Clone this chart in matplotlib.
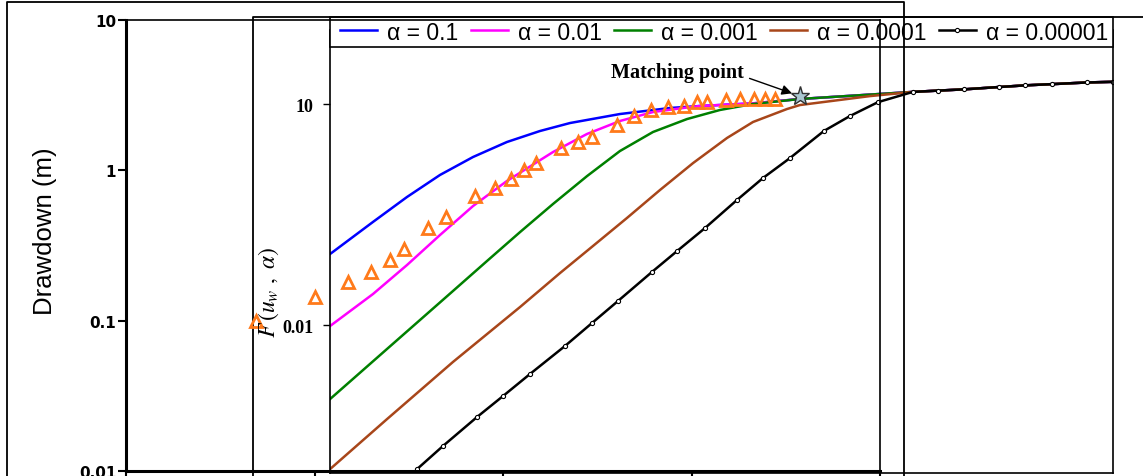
import matplotlib.pyplot as plt
from matplotlib.lines import Line2D
from matplotlib.patches import Rectangle
from matplotlib.ticker import NullLocator

# type curves F(u_w, alpha) against 1/u_w
inv_uw_a1 = [1, 3.12, 7.67, 18.4, 44.1, 108, 259, 574, 2150, 8090,
             17900, 72800, 252000, 948000, 5.02e6, 9.75e6, 1.94e7, 4.90e7, 9.75e7, 1.99e8, 5.02e8, 1e9]
f_a1 = [0.092, 0.251, 0.547, 1.09, 1.91, 3.05, 4.30, 5.52, 7.31, 8.83,
        9.4, 10.2, 11.7, 12.9, 14.6, 15.2, 15.8, 17.0, 17.9, 18.6, 19.6, 20.0]

inv_uw_a2 = [1, 3.12, 7.67, 18.4, 44.1, 108, 366, 899, 2150, 5160, 12700,
             17900, 72800, 252000, 948000, 5.02e6, 9.75e6, 1.94e7, 4.90e7, 9.75e7, 1.99e8, 5.02e8, 1e9]
f_a2 = [0.0097, 0.0264, 0.0653, 0.167, 0.413, 0.902, 2.23, 3.92, 5.88, 7.78, 8.97,
        9.4, 10.2, 11.7, 12.9, 14.6, 15.2, 15.8, 17.0, 17.9, 18.6, 19.6, 20.0]

inv_uw_a3 = [1, 4.52, 10.8, 25.9, 63.8, 153, 366, 899, 2150, 5160, 12700, 30400, 72800,
             252000, 948000, 5.02e6, 9.75e6, 1.94e7, 4.90e7, 9.75e7, 1.99e8, 5.02e8, 1e9]
f_a3 = [0.00099, 0.00474, 0.0117, 0.0290, 0.0741, 0.183, 0.440, 1.05, 2.30, 4.17, 6.25, 8.30, 10.0,
        11.7, 12.9, 14.6, 15.2, 15.8, 17.0, 17.9, 18.6, 19.6, 20.0]

inv_uw_a4 = [1, 4.52, 25.9, 153, 441, 1050, 2590, 6210, 14900, 36600, 72800, 179000, 252000,
             1.61e6, 5.02e6, 9.75e6, 1.94e7, 4.90e7, 9.75e7, 1.99e8, 5.02e8, 1e9]
f_a4 = [1.11e-4, 5.3e-4, 0.00316, 0.0176, 0.0509, 0.118, 0.284, 0.681, 1.58, 3.46, 5.70, 8.55, 9.68,
        12.8, 14.6, 15.2, 15.8, 17.0, 17.9, 18.6, 19.6, 20.0]

inv_uw_a5 = [10, 19.9, 49.0, 97.5, 199, 502, 1030, 2040, 5020, 9750, 20400, 47600, 94800,
             194000, 476000, 948000, 1.99e6, 5.02e6, 9.75e6, 1.94e7, 4.90e7, 9.75e7, 1.99e8, 5.02e8, 1e9]
f_a5 = [1.11e-4, 2.29e-4, 5.66e-4, 0.00109, 0.00217, 0.0052, 0.0107, 0.0212, 0.0526, 0.101, 0.207, 0.498, 0.99,
        1.85, 4.31, 6.87, 10.6, 14.6, 15.2, 15.8, 17.0, 17.9, 18.6, 19.6, 20.0]

alpha_labels = ["α = 0.1", "α = 0.01", "α = 0.001", "α = 0.0001", "α = 0.00001"]

# observed drawdown
time_obs = [4.9, 10, 15, 20, 25, 30, 40, 50, 71, 91, 110, 130, 150, 204, 251, 297, 404, 497,
            612, 755, 918, 1076, 1202, 1517, 1799, 2136, 2445, 2763]
drawdown_obs = [0.099, 0.143, 0.180, 0.210, 0.252, 0.299, 0.412, 0.488, 0.672, 0.759, 0.871, 1.0,
                1.11, 1.40, 1.53, 1.66, 1.99, 2.28, 2.51, 2.62, 2.67, 2.83, 2.83, 2.92, 2.96,
                2.99, 2.99, 2.99]

match_inv_uw = 252000
match_f = 12.8

W, H = 1143, 477


def fx(x):
    return x / W


def fy(y):
    return 1 - y / H


plt.rcParams['font.family'] = ['Liberation Sans', 'DejaVu Sans']
plt.rcParams['mathtext.fontset'] = 'stix'

fig = plt.figure(figsize=(W / 100, H / 100), dpi=100)

ax_d = fig.add_axes([fx(126), fy(472), (880 - 126) / W, (472 - 20.7) / H])
ax_f = fig.add_axes([fx(330), fy(473.5), (1113 - 330) / W, (473.5 - 31.3) / H])
ax_f.set_zorder(1)
ax_d.set_zorder(2)
ax_d.patch.set_visible(False)
ax_f.patch.set_visible(False)

# chart frames
fig.add_artist(Line2D([fx(7), fx(7), fx(904), fx(904)], [fy(490), fy(3), fy(3), fy(490)],
                      transform=fig.transFigure, color='black', lw=1.3))
fig.add_artist(Line2D([fx(253), fx(253), fx(1160)], [fy(490), fy(18), fy(18)],
                      transform=fig.transFigure, color='black', lw=1.3))

# type curves
colors = ['#0000ff', '#ff00ff', '#008000', '#a8461a', '#000000']
series = [(inv_uw_a1, f_a1), (inv_uw_a2, f_a2), (inv_uw_a3, f_a3), (inv_uw_a4, f_a4), (inv_uw_a5, f_a5)]
handles = []
for (xs, ys), c, lab in zip(series, colors, alpha_labels):
    if c == '#000000':
        h, = ax_f.plot(xs, ys, color=c, lw=1.8, marker='o', ms=3, mfc='white', mec='black',
                       mew=0.8, label=lab)
    else:
        h, = ax_f.plot(xs, ys, color=c, lw=1.8, label=lab)
    handles.append(h)

ax_f.plot([match_inv_uw], [match_f], marker='*', ms=14, mfc='#a9c6d0', mec='#303030',
          mew=1, ls='none', zorder=5)
ax_f.annotate('Matching point', xy=(match_inv_uw, match_f), xytext=(-88, 17),
              textcoords='offset points', ha='center', va='center',
              fontfamily='Liberation Serif', fontweight='bold', fontsize=14.5,
              arrowprops=dict(arrowstyle='-|>', color='black', lw=1, mutation_scale=15,
                              relpos=(1.0, 0.3), shrinkA=2, shrinkB=6))

ax_f.set_xscale('log')
ax_f.set_yscale('log')
ax_f.set_xlim(1, 1e9)
ax_f.set_ylim(1e-4, 1e2)
ax_f.set_xticks([])
ax_f.xaxis.set_minor_locator(NullLocator())
ax_f.set_yticks([0.01, 10], labels=['0.01', '10'])
ax_f.yaxis.set_minor_locator(NullLocator())
ax_f.tick_params(axis='y', direction='out', length=5, width=1, pad=7)
for t in ax_f.get_yticklabels():
    t.set_fontfamily('Liberation Serif')
    t.set_fontweight('bold')
    t.set_fontsize(13)
ax_f.spines['top'].set_visible(False)
for s in ['left', 'right', 'bottom']:
    ax_f.spines[s].set_linewidth(1.2)

# legend box across the top of the type-curve plot
ax_f.add_patch(Rectangle((fx(330), fy(48)), (1113 - 330) / W, 30 / H, transform=fig.transFigure,
                         facecolor='white', edgecolor='black', lw=1.2, clip_on=False, zorder=4))
leg = ax_f.legend(handles=handles, loc='center left',
                  bbox_to_anchor=(fx(340), fy(48), (1108 - 340) / W, 30 / H),
                  bbox_transform=fig.transFigure, mode='expand', ncol=5, borderaxespad=0,
                  fontsize=16.5, handlelength=1.62, handletextpad=0.44, columnspacing=0.5,
                  borderpad=0, frameon=False)

# observed drawdown on the field axes
ax_d.plot(time_obs, drawdown_obs, ls='none', marker='^', ms=9, mfc='none', mec='#ff7a1a',
          mew=2)
ax_d.set_xscale('log')
ax_d.set_yscale('log')
ax_d.set_xlim(1, 1e4)
ax_d.set_ylim(0.01, 10)
ax_d.set_xticks([1, 10, 100, 1000, 10000], labels=['', '', '', '', ''])
ax_d.xaxis.set_minor_locator(NullLocator())
ax_d.set_yticks([0.01, 0.1, 1, 10], labels=['0.01', '0.1', '1', '10'])
ax_d.yaxis.set_minor_locator(NullLocator())
ax_d.tick_params(direction='out', length=6, width=1.5, pad=1)
for t in ax_d.get_yticklabels():
    t.set_fontfamily('DejaVu Sans')
    t.set_fontweight('bold')
    t.set_fontsize(11)
ax_d.spines['left'].set_linewidth(2.2)
ax_d.spines['bottom'].set_linewidth(2.2)
ax_d.spines['top'].set_linewidth(1.2)
ax_d.spines['right'].set_linewidth(1.2)

fig.text(fx(45), fy(231), 'Drawdown (m)', rotation=90, ha='center', va='center', fontsize=18.5)
fig.text(fx(269), fy(292), r'$F\,(u_w\ ,\ \alpha)$', rotation=90, ha='center', va='center',
         fontsize=17)

fig.savefig('out.png', dpi=100)
